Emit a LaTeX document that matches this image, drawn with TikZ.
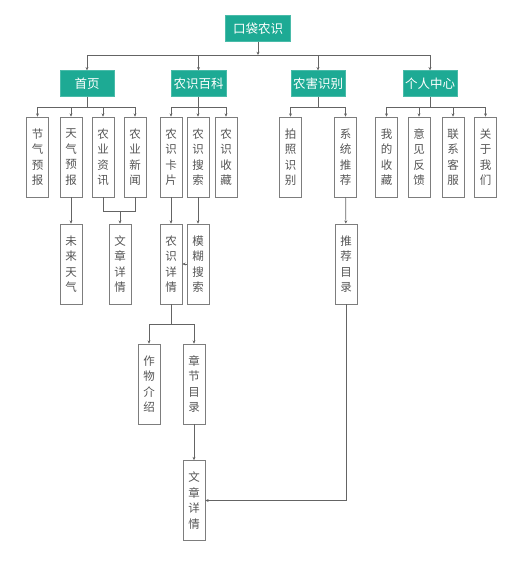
\documentclass[tikz,border=0pt]{standalone}
\usepackage{fontspec}
\setmainfont{Noto Sans CJK SC}
\usepackage{xcolor}
\usetikzlibrary{arrows.meta,positioning}

\definecolor{teal}{RGB}{29,170,148}
\definecolor{edgegray}{RGB}{100,100,100}
\definecolor{boxgray}{RGB}{125,125,125}
\definecolor{textgray}{RGB}{85,85,85}

\begin{document}
\begin{tikzpicture}[x=1pt,y=-1pt,
  topbox/.style={fill=teal,draw=teal!80!white,text=white,inner sep=0pt,
    minimum height=26pt,font=\fontsize{12.5}{14}\selectfont},
  leaf/.style={draw=boxgray,line width=0.8pt,fill=white,text=textgray,inner sep=0pt,
    minimum width=22pt,minimum height=80pt,align=center,
    font=\fontsize{11.5}{15.5}\selectfont},
  link/.style={draw=edgegray,line width=0.6pt},
  arr/.style={link,-{Stealth[length=3.2pt,width=3pt]}}]
  \useasboundingbox (0,0) rectangle (527,561);

  \node[topbox,minimum width=65pt] (root) at (258,28.5) {口袋农识};

  \node[topbox,minimum width=54pt] (home) at (87,83.5) {首页};
  \node[topbox,minimum width=55pt] (baike) at (198.5,83.5) {农识百科};
  \node[topbox,minimum width=54pt] (pest) at (318,83.5) {农害识别};
  \node[topbox,minimum width=54pt] (mine) at (430,83.5) {个人中心};

  % second row
  \node[leaf] (jieqi) at (37.5,157) {节\\气\\预\\报};
  \node[leaf] (tianqi) at (71,157) {天\\气\\预\\报};
  \node[leaf] (zixun) at (103,157) {农\\业\\资\\讯};
  \node[leaf] (xinwen) at (135,157) {农\\业\\新\\闻};
  \node[leaf] (kapian) at (171,157) {农\\识\\卡\\片};
  \node[leaf] (sousuo) at (198,157) {农\\识\\搜\\索};
  \node[leaf] (shoucang) at (226,157) {农\\识\\收\\藏};
  \node[leaf] (paizhao) at (290.5,157) {拍\\照\\识\\别};
  \node[leaf] (tuijian) at (345.5,157) {系\\统\\推\\荐};
  \node[leaf] (wode) at (386.5,157) {我\\的\\收\\藏};
  \node[leaf] (fankui) at (419,157) {意\\见\\反\\馈};
  \node[leaf] (kefu) at (453,157) {联\\系\\客\\服};
  \node[leaf] (guanyu) at (485.5,157) {关\\于\\我\\们};

  % third row
  \node[leaf] (weilai) at (71,264) {未\\来\\天\\气};
  \node[leaf] (wenzhang) at (120,264) {文\\章\\详\\情};
  \node[leaf] (xiangqing) at (171,264) {农\\识\\详\\情};
  \node[leaf] (mohu) at (198,264) {模\\糊\\搜\\索};
  \node[leaf] (mulu) at (346,264) {推\\荐\\目\\录};

  % fourth and fifth rows
  \node[leaf] (zuowu) at (149,384) {作\\物\\介\\绍};
  \node[leaf] (zhangjie) at (194,384) {章\\节\\目\\录};
  \node[leaf] (wenzhang2) at (194,500.5) {文\\章\\详\\情};

  % buses
  \coordinate (rootbus) at (258,55);
  \coordinate (homebus) at (87,107);
  \coordinate (baikebus) at (198.5,107);
  \coordinate (pestbus) at (318,107);
  \coordinate (minebus) at (430,107);
  \coordinate (newsjoin) at (120,211);
  \coordinate (detailbus) at (171,324);

  % root to first row
  \draw[arr] (root) -- (rootbus);
  \foreach \n in {home,baike,pest,mine}
    \draw[arr] (rootbus) -| (\n);

  % first row to second row
  \draw[link] (home) -- (homebus);
  \foreach \n in {jieqi,tianqi,zixun,xinwen}
    \draw[arr] (homebus) -| (\n);
  \draw[link] (baike) -- (baikebus);
  \foreach \n in {kapian,sousuo,shoucang}
    \draw[arr] (baikebus) -| (\n);
  \draw[link] (pest) -- (pestbus);
  \foreach \n in {paizhao,tuijian}
    \draw[arr] (pestbus) -| (\n);
  \draw[link] (mine) -- (minebus);
  \foreach \n in {wode,fankui,kefu,guanyu}
    \draw[arr] (minebus) -| (\n);

  % second row to third row
  \draw[arr] (tianqi) -- (weilai);
  \draw[link] (zixun) |- (newsjoin);
  \draw[link] (xinwen) |- (newsjoin);
  \draw[arr] (newsjoin) -- (wenzhang);
  \draw[arr] (kapian) -- (xiangqing);
  \draw[arr] (sousuo) -- (mohu);
  \draw[arr] (mohu) -- (xiangqing);
  \draw[arr] (tuijian) -- (mulu);

  % details
  \draw[link] (xiangqing) -- (detailbus);
  \draw[arr] (detailbus) -| (zuowu);
  \draw[arr] (detailbus) -| (zhangjie);
  \draw[arr] (zhangjie) -- (wenzhang2);
  \draw[arr] (mulu) |- (wenzhang2);
\end{tikzpicture}
\end{document}
